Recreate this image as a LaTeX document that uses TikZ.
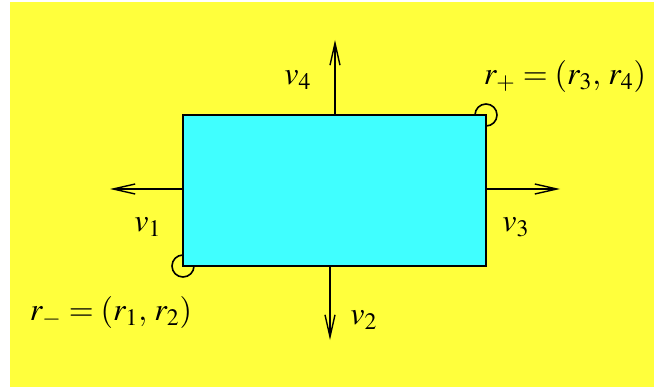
\documentclass[tikz,border=0pt]{standalone}
\usepackage{amsmath}
\usepackage{mathptmx}
\usepackage{tikz}
\usetikzlibrary{arrows.meta,positioning}

\definecolor{bgyellow}{RGB}{255,255,60}
\definecolor{boxcyan}{RGB}{64,255,255}

\begin{document}
\begin{tikzpicture}[x=0.5pt, y=-0.5pt,
  box/.style={draw, line width=0.9pt, fill=boxcyan, minimum width=151.5pt, minimum height=75.5pt, inner sep=0pt},
  corner/.style={draw, circle, line width=0.8pt, minimum size=11pt, inner sep=0pt},
  arr/.style={-{Straight Barb[length=11pt, width=5pt]}, line width=0.7pt},
  lab/.style={font=\fontsize{16}{19}\selectfont, inner sep=1pt}]
  % page and background (pixel units, y downwards)
  \useasboundingbox (0,0) rectangle (654,390);
  \fill[bgyellow] (10,2) rectangle (654,387);
  % corner circles sit under the box
  \node[corner] (cp) at (486,115) {};
  \node[corner] (cm) at (183,266) {};
  \node[box] (rect) at (334.5,190.5) {};
  % free ends of the arrows
  \coordinate (up)    at (335,40);
  \coordinate (down)  at (330,340);
  \coordinate (left)  at (110,189);
  \coordinate (right) at (560,189);
  \draw[arr] (rect.north -| up) -- (up);
  \draw[arr] (rect.south -| down) -- (down);
  \draw[arr] (rect.west |- left) -- (left);
  \draw[arr] (rect.east |- right) -- (right);
  \node[lab] (v4) at (298,80)  {$v_4$};
  \node[lab] (v1) at (148,227) {$v_1$};
  \node[lab] (v3) at (516,227) {$v_3$};
  \node[lab] (v2) at (364,320) {$v_2$};
  \node[lab] (rp) at (565,77)  {$r_+=(r_3,\,r_4)$};
  \node[lab] (rm) at (111,313) {$r_-=(r_1,\,r_2)$};
\end{tikzpicture}
\end{document}
